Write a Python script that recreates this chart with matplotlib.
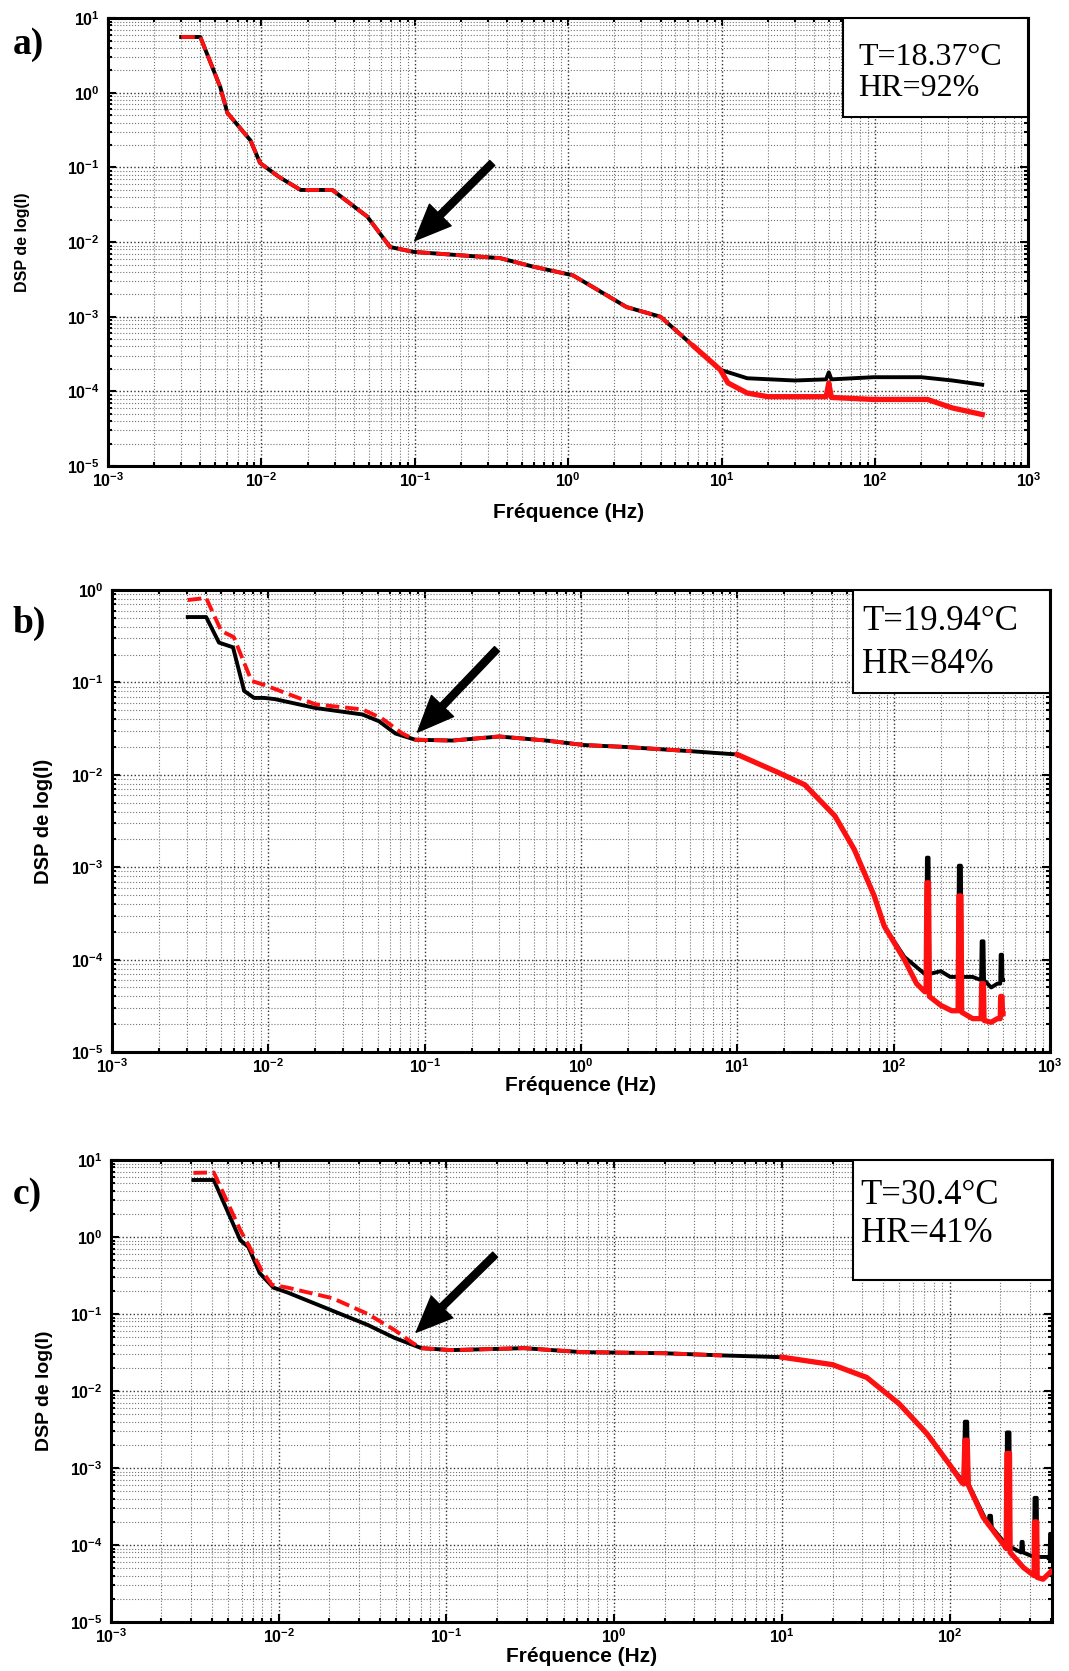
import numpy as np
import matplotlib
matplotlib.use("Agg")
import matplotlib.pyplot as plt
from matplotlib.patches import Rectangle
from matplotlib.ticker import FixedLocator, FuncFormatter, NullFormatter

plt.rcParams['font.family'] = ['Liberation Sans', 'DejaVu Sans']
plt.rcParams['mathtext.fontset'] = 'custom'
plt.rcParams['mathtext.rm'] = 'Liberation Sans'
plt.rcParams['mathtext.bf'] = 'Liberation Sans:bold'

# ---- panel a) T=18.37°C, HR=92% ----
fa_black = [0.0030, 0.0040, 0.0054, 0.0060, 0.0085, 0.0098, 0.013, 0.018, 0.029, 0.049, 0.069,
            0.098, 0.36, 0.59, 1.07, 1.45, 2.4, 4.0, 6.6, 9.8, 14.7, 30, 48, 50, 52, 98, 200,
            320, 500]
pa_black = [5.6, 5.6, 1.19, 0.54, 0.23, 0.115, 0.075, 0.05, 0.05, 0.022, 0.0086,
            0.0074, 0.0061, 0.0047, 0.0036, 0.0025, 0.00135, 0.001, 4e-4, 1.95e-4, 1.5e-4,
            1.4e-4, 1.45e-4, 1.8e-4, 1.45e-4, 1.55e-4, 1.55e-4, 1.4e-4, 1.23e-4]
fa_red = [0.0030, 0.0040, 0.0054, 0.0060, 0.0085, 0.0098, 0.013, 0.018, 0.029, 0.049, 0.069,
          0.098, 0.36, 0.59, 1.07, 1.45, 2.4, 4.0, 6.6, 9.8, 11, 14.7, 20, 48, 50, 52, 98,
          220, 320, 500]
pa_red = [5.6, 5.6, 1.19, 0.54, 0.23, 0.115, 0.075, 0.05, 0.05, 0.022, 0.0086,
          0.0074, 0.0061, 0.0047, 0.0036, 0.0025, 0.00135, 0.001, 4e-4, 1.95e-4, 1.3e-4,
          9.5e-5, 8.5e-5, 8.5e-5, 1.3e-4, 8.3e-5, 7.8e-5, 7.8e-5, 6e-5, 4.9e-5]

# ---- panel b) T=19.94°C, HR=84% ----
fb_black = [0.00305, 0.0040, 0.00483, 0.00594, 0.0070, 0.0081, 0.0094, 0.011, 0.0199, 0.04,
            0.051, 0.065, 0.087, 0.15, 0.30, 0.6, 1.05, 1.95, 5.1, 10, 18, 27, 42, 56, 75, 87,
            117, 158, 161, 163, 167, 169, 200, 230, 258, 261, 269, 272, 320, 362, 365, 375,
            378, 420, 460, 480, 483, 493, 496, 500]
pb_black = [0.51, 0.51, 0.27, 0.24, 0.081, 0.068, 0.068, 0.066, 0.053, 0.045,
            0.038, 0.028, 0.024, 0.0235, 0.026, 0.0235, 0.021, 0.020, 0.018, 0.0166, 0.0107,
            0.0078, 0.0036, 0.00155, 4.9e-4, 2.3e-4,
            1.07e-4, 7e-5, 7e-5, 1.27e-3, 1.27e-3, 7e-5, 7.5e-5, 6.5e-5, 6.5e-5, 1.04e-3,
            1.04e-3, 6.5e-5, 6.5e-5, 6e-5, 1.58e-4, 1.58e-4, 6e-5, 5e-5, 5.5e-5, 5.5e-5,
            1.13e-4, 1.13e-4, 6e-5, 6e-5]
fb_red = [0.00305, 0.0040, 0.0050, 0.0060, 0.0078, 0.0094, 0.02, 0.04, 0.053, 0.072, 0.087,
          0.15, 0.30, 0.6, 1.05, 1.95, 5.1, 10, 18, 27, 42, 56, 75, 87, 117, 140, 158, 161,
          163, 167, 169, 200, 235, 258, 261, 269, 272, 320, 362, 365, 375, 378, 420, 460,
          480, 483, 493, 496, 500]
pb_red = [0.78, 0.82, 0.36, 0.31, 0.104, 0.094, 0.058, 0.051, 0.041, 0.028, 0.024,
          0.0235, 0.026, 0.0235, 0.021, 0.020, 0.018, 0.0166, 0.0107, 0.0078, 0.0036,
          0.00155, 4.9e-4, 2.3e-4, 1.0e-4, 5.5e-5, 4.5e-5, 4.5e-5, 6.8e-4, 6.8e-4, 4e-5,
          3.2e-5, 2.8e-5, 2.8e-5, 4.9e-4, 4.9e-4, 2.7e-5, 2.3e-5, 2.3e-5, 5.5e-5, 5.5e-5,
          2.2e-5, 2.1e-5, 2.3e-5, 2.3e-5, 4e-5, 4e-5, 2.6e-5, 2.6e-5]

# ---- panel c) T=30.4°C, HR=41% ----
fc_black = [0.0031, 0.0041, 0.0059, 0.0066, 0.0077, 0.0093, 0.0113, 0.021, 0.034, 0.049,
            0.071, 0.107, 0.29, 0.64, 1.94, 4.4, 10, 20, 32, 50, 73, 100, 118, 121, 123, 127,
            129, 158, 170, 172, 176, 178, 210, 217, 219, 227, 229, 266, 268, 272, 274, 318,
            320, 330, 332, 380, 394, 396, 400]
pc_black = [5.5, 5.5, 0.91, 0.74, 0.34, 0.22, 0.19, 0.11, 0.072, 0.049,
            0.036, 0.034, 0.036, 0.032, 0.031, 0.029, 0.0275, 0.022, 0.015, 0.0068, 0.0028,
            0.0011, 7e-4, 6.5e-4, 4.0e-3, 4.0e-3, 6.2e-4, 2.5e-4, 1.8e-4, 2.4e-4, 2.4e-4,
            1.7e-4, 1.1e-4, 1.0e-4, 2.9e-3, 2.9e-3, 9.5e-5, 8e-5, 1.1e-4, 1.1e-4, 8e-5, 7e-5,
            4.1e-4, 4.1e-4, 7e-5, 7e-5, 6.5e-5, 1.4e-4, 1.4e-4]
fc_red = [0.0031, 0.0041, 0.0059, 0.0066, 0.0079, 0.0091, 0.0113, 0.021, 0.034, 0.049, 0.063,
          0.071, 0.107, 0.29, 0.64, 1.94, 4.4, 10, 20, 32, 50, 73, 100, 118, 121, 123, 127,
          129, 158, 210, 217, 219, 227, 229, 275, 318, 320, 330, 332, 360, 400]
pc_red = [6.8, 6.9, 1.23, 0.79, 0.37, 0.24, 0.22, 0.16, 0.10, 0.062, 0.042,
          0.036, 0.034, 0.036, 0.032, 0.031, 0.029, 0.0275, 0.022, 0.015, 0.0068, 0.0028,
          0.0011, 6.5e-4, 6.2e-4, 2.3e-3, 2.3e-3, 6e-4, 2.3e-4, 1.0e-4, 9e-5, 1.55e-3,
          1.55e-3, 8e-5, 5.1e-5, 4e-5, 2e-4, 2e-4, 3.8e-5, 3.6e-5, 4.5e-5]

panels = [
    dict(tag="a)", T="T=18.37°C", HR="HR=92%", ylim=(1e-5, 10), xlim=(1e-3, 1e3),
         black=(fa_black, pa_black), red=(fa_red, pa_red),
         arrow_tail=(0.32, 0.115), arrow_head=(0.10, 0.0105)),
    dict(tag="b)", T="T=19.94°C", HR="HR=84%", ylim=(1e-5, 1), xlim=(1e-3, 1e3),
         black=(fb_black, pb_black), red=(fb_red, pb_red),
         arrow_tail=(0.29, 0.23), arrow_head=(0.09, 0.029)),
    dict(tag="c)", T="T=30.4°C", HR="HR=41%", ylim=(1e-5, 10), xlim=(1e-3, 405),
         black=(fc_black, pc_black), red=(fc_red, pc_red),
         arrow_tail=(0.195, 0.59), arrow_head=(0.066, 0.058)),
]

# axes rectangles (figure fractions) and per-panel text placement
rects = [[0.101, 0.7211, 0.861, 0.268],
         [0.1048, 0.3704, 0.8775, 0.2765],
         [0.1038, 0.0293, 0.880, 0.2765]]
tag_y = [1 - 45 / 1671, 1 - 623 / 1671, 1 - 1194 / 1671]
box = [(0.799, 0.779, 0.815, 0.913, 0.844), (0.79, 0.777, 0.80, 0.931, 0.838),
       (0.789, 0.74, 0.797, 0.924, 0.84)]
box_font = [23, 25, 25]
ylab_x = [-0.085, -0.063, -0.062]
ylab_size = [11.5, 14.5, 14]
xlab_y = [-0.083, -0.052, -0.053]


def decade_ticks(lo, hi):
    e0, e1 = int(np.floor(np.log10(lo) + 1e-9)), int(np.ceil(np.log10(hi) - 1e-9))
    major = [10.0 ** e for e in range(e0, e1 + 1) if lo * 0.999 <= 10.0 ** e <= hi * 1.001]
    minor = [m * 10.0 ** e for e in range(e0, e1 + 1) for m in range(2, 10)
             if lo < m * 10.0 ** e < hi]
    return major, minor


fig = plt.figure(figsize=(10.69, 16.71), dpi=100)
fmt = FuncFormatter(lambda v, p: r'$\mathbf{10^{%d}}$' % int(round(np.log10(v))))

for i, pan in enumerate(panels):
    ax = fig.add_axes(rects[i])
    ax.set_xscale('log')
    ax.set_yscale('log')

    fb, pb = np.array(pan['black'][0]), np.array(pan['black'][1])
    fr, pr = np.array(pan['red'][0]), np.array(pan['red'][1])
    ax.plot(fb, pb, color='black', lw=2.8, zorder=3)
    # red: dashed at low frequency, dense/noisy (looks solid) above ~8 Hz
    lo = fr <= 8
    hi = fr >= 6
    ax.plot(fr[lo], pr[lo], color='#ff1010', lw=2.8, ls=(0, (3.5, 1.5)), zorder=4)
    ax.plot(fr[hi], pr[hi], color='#ff1010', lw=3.8, zorder=4)

    ax.set_xlim(*pan['xlim'])
    ax.set_ylim(*pan['ylim'])
    for axis, lims in ((ax.xaxis, pan['xlim']), (ax.yaxis, pan['ylim'])):
        major, minor = decade_ticks(*lims)
        axis.set_major_locator(FixedLocator(major))
        axis.set_minor_locator(FixedLocator(minor))
        axis.set_major_formatter(fmt)
        axis.set_minor_formatter(NullFormatter())
    ax.grid(True, which='major', ls=':', color='0.2', lw=1.0)
    ax.grid(True, which='minor', ls=':', color='0.45', lw=0.8)
    ax.tick_params(which='both', direction='in', top=True, right=True, width=1.5)
    ax.tick_params(which='major', length=6, labelsize=11.5)
    ax.tick_params(axis='x', which='major', pad=4)
    ax.tick_params(axis='y', which='major', pad=6)
    ax.tick_params(which='minor', length=3)
    for s in ax.spines.values():
        s.set_linewidth(2.2)

    ax.set_xlabel("Fréquence (Hz)", fontsize=15, fontweight='bold')
    ax.xaxis.set_label_coords(0.5, xlab_y[i])
    ax.set_ylabel("DSP de log(I)", fontsize=ylab_size[i], fontweight='bold')
    ax.yaxis.set_label_coords(ylab_x[i], 0.5)

    bx0, by0, tx, ty1, ty2 = box[i]
    ax.add_patch(Rectangle((bx0, by0), 1 - bx0, 1 - by0, transform=ax.transAxes,
                           facecolor='white', edgecolor='black', lw=1.5, zorder=6))
    ax.text(tx, ty1, pan['T'], transform=ax.transAxes, family='Liberation Serif',
            fontsize=box_font[i], va='center', ha='left', zorder=7)
    ax.text(tx, ty2, pan['HR'], transform=ax.transAxes, family='Liberation Serif',
            fontsize=box_font[i], va='center', ha='left', zorder=7)

    ax.annotate('', xy=pan['arrow_head'], xytext=pan['arrow_tail'],
                arrowprops=dict(facecolor='black', edgecolor='black', width=5,
                                headwidth=22, headlength=26, shrink=0), zorder=8)

    fig.text(0.012, tag_y[i], pan['tag'], family='Liberation Serif', fontweight='bold',
             fontsize=27, va='center', ha='left')

fig.savefig("out.png", dpi=100)
